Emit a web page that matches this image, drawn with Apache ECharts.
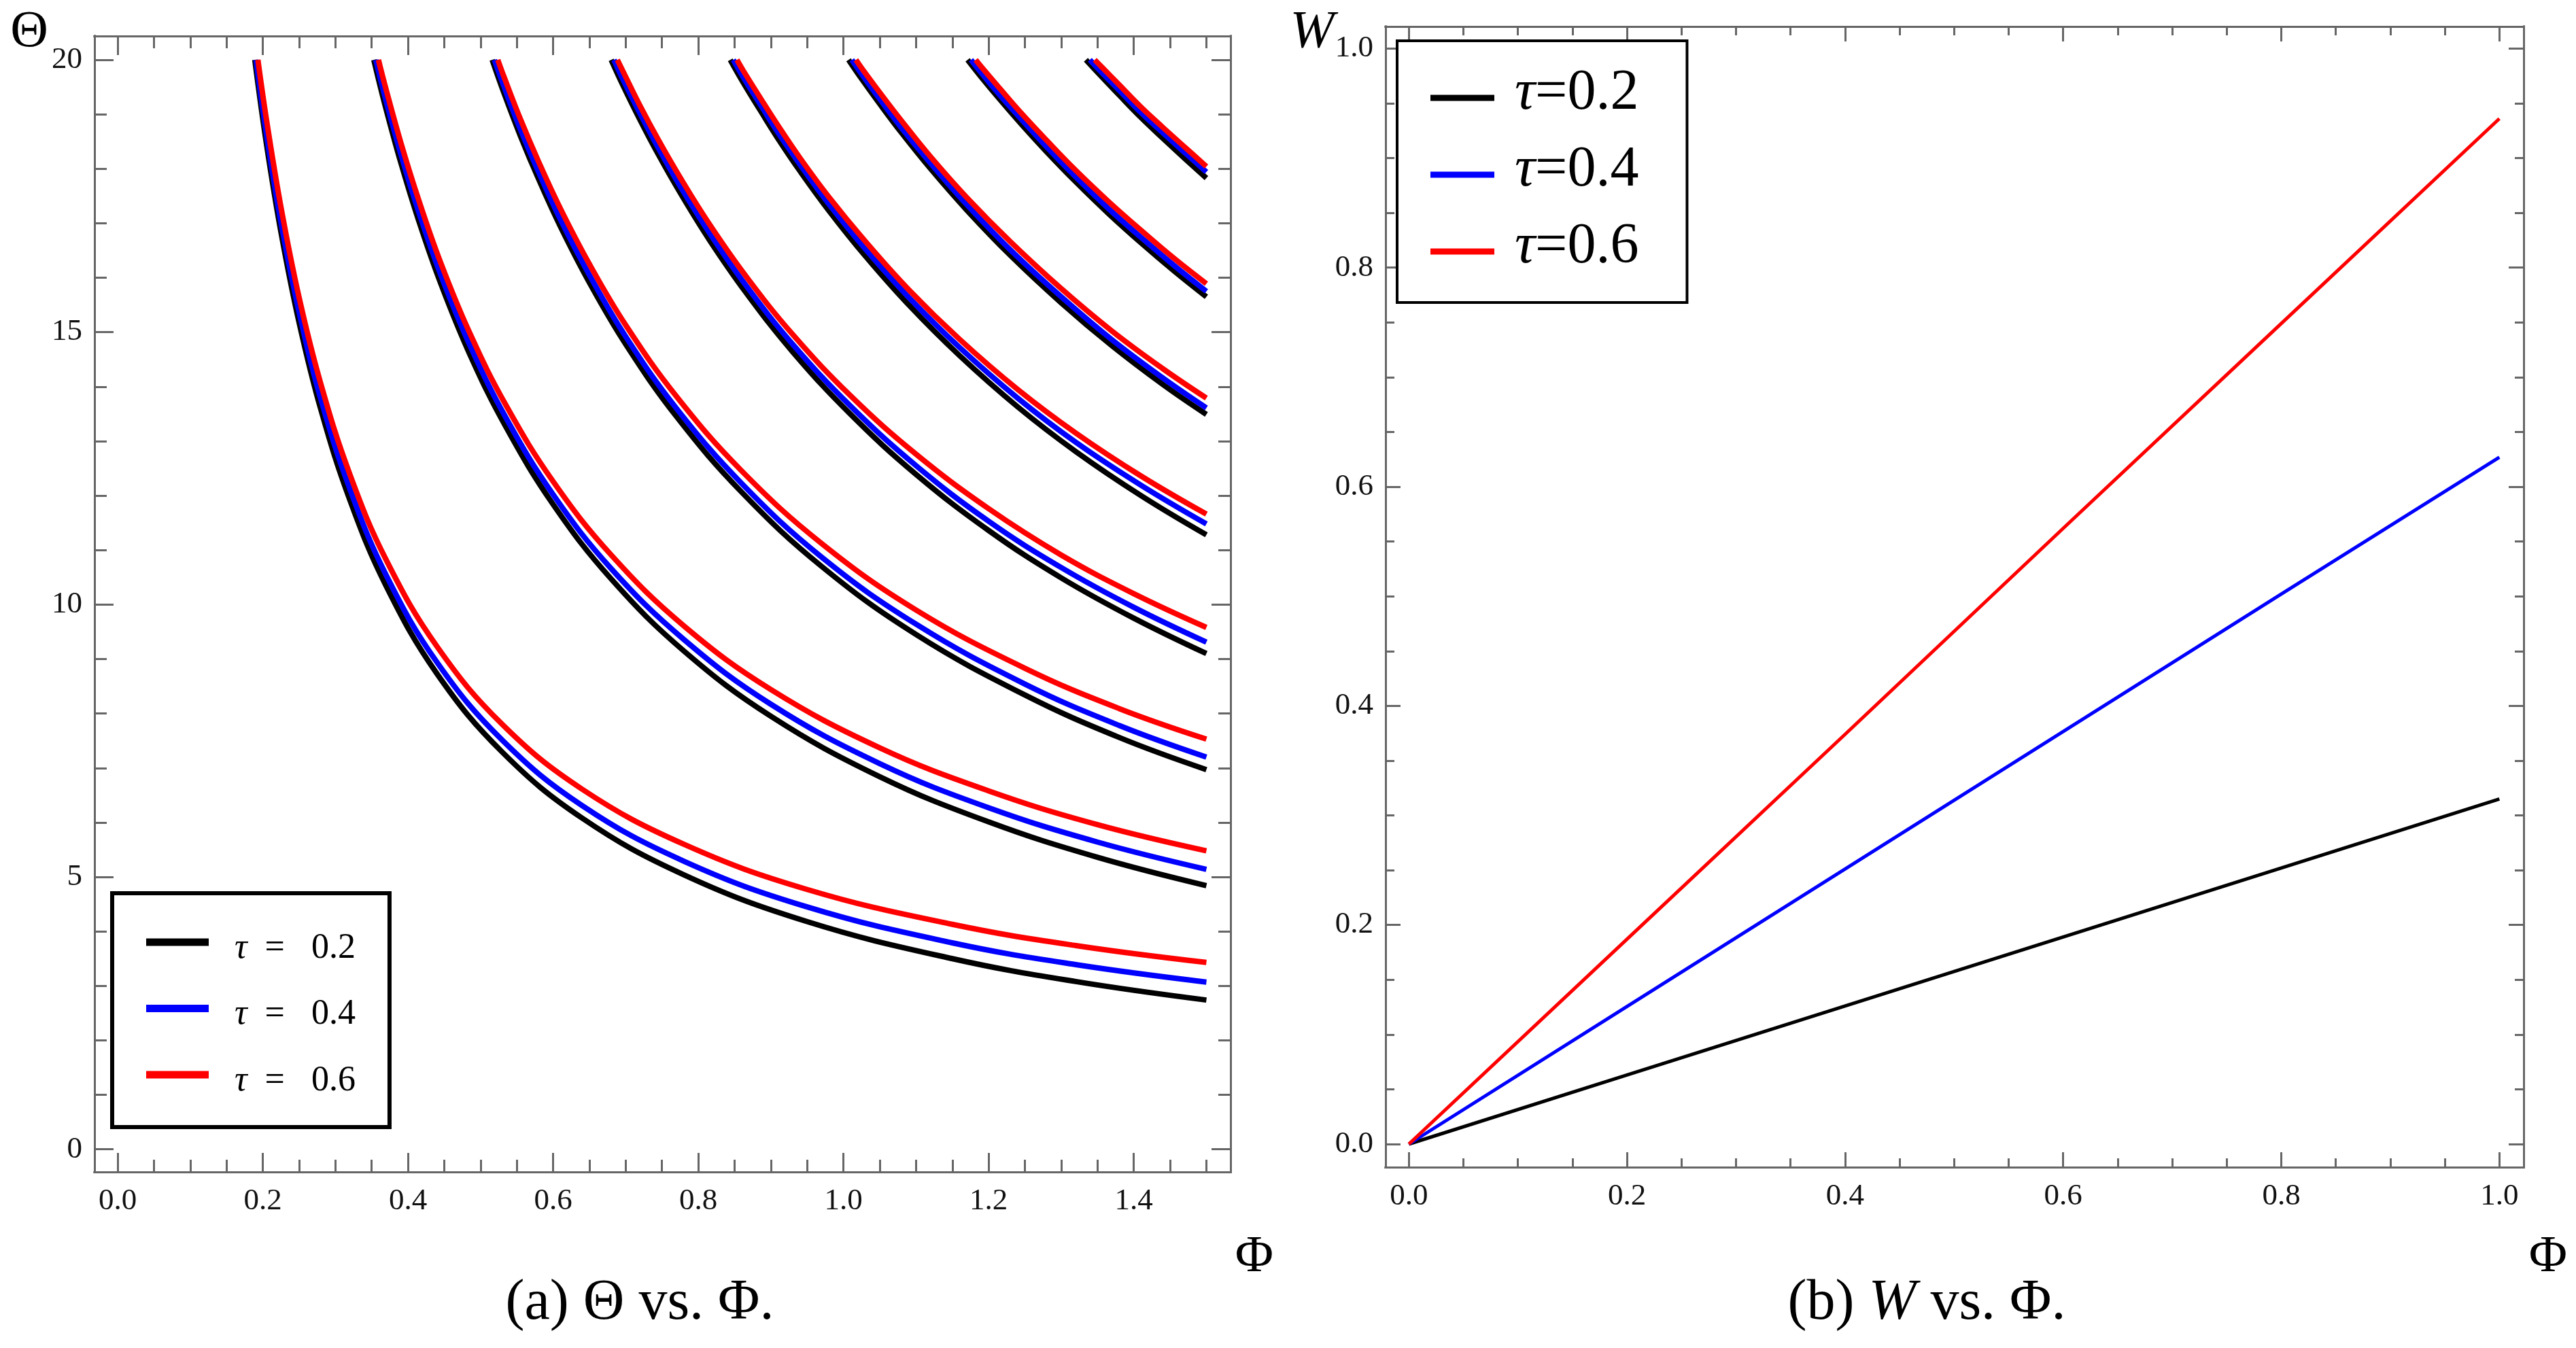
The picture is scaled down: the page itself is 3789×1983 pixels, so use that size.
<!DOCTYPE html>
<html><head><meta charset="utf-8">
<script src="https://cdn.jsdelivr.net/npm/echarts@6/dist/echarts.min.js"></script>
<style>html,body{margin:0;padding:0;background:#fff}#c{width:3789px;height:1983px}</style>
</head><body><div id="c"></div>
<script>
// ---------- Panel (a): Theta vs Phi ----------
const tauNamesA = ['τ = 0.2', 'τ = 0.4', 'τ = 0.6'];
const tauNamesB = ['τ=0.2', 'τ=0.4', 'τ=0.6'];
const lineColors = ['#000000', '#0000ff', '#ff0000'];

const startTheta = 20;
const startPhiBlack = [0.189, 0.353, 0.516, 0.680, 0.844, 1.007, 1.171, 1.334];
const startPhiBlue  = [0.1907, 0.3557, 0.5191, 0.6838, 0.8482, 1.0116, 1.1757, 1.3394];
const startPhiRed   = [0.1933, 0.3594, 0.5238, 0.6885, 0.8533, 1.0172, 1.1822, 1.3462];

const phiGrid = [
  [0.205, 0.225, 0.25, 0.28, 0.32, 0.37, 0.44, 0.53, 0.64, 0.78, 0.95, 1.15, 1.32, 1.5],
  [0.368, 0.39, 0.415, 0.445, 0.485, 0.535, 0.6, 0.68, 0.78, 0.9, 1.05, 1.2, 1.35, 1.5],
  [0.532, 0.555, 0.58, 0.61, 0.65, 0.7, 0.77, 0.86, 0.97, 1.1, 1.25, 1.38, 1.5],
  [0.697, 0.72, 0.745, 0.775, 0.815, 0.865, 0.93, 1.01, 1.1, 1.2, 1.3, 1.4, 1.5],
  [0.862, 0.885, 0.91, 0.94, 0.98, 1.03, 1.09, 1.16, 1.24, 1.32, 1.41, 1.5],
  [1.025, 1.05, 1.08, 1.12, 1.17, 1.23, 1.3, 1.37, 1.44, 1.5],
  [1.19, 1.215, 1.245, 1.28, 1.32, 1.365, 1.41, 1.455, 1.5],
  [1.355, 1.38, 1.41, 1.44, 1.47, 1.5]
];
const thetaBlack = [
  [18.46, 16.84, 15.18, 13.58, 11.92, 10.34, 8.73, 7.29, 6.08, 5.04, 4.18, 3.50, 3.08, 2.74],
  [19.19, 18.12, 17.04, 15.90, 14.60, 13.26, 11.84, 10.47, 9.15, 7.95, 6.84, 6.01, 5.36, 4.84],
  [19.40, 18.60, 17.81, 16.94, 15.91, 14.78, 13.45, 12.06, 10.70, 9.45, 8.34, 7.56, 6.97],
  [19.51, 18.89, 18.26, 17.56, 16.70, 15.74, 14.64, 13.49, 12.39, 11.36, 10.49, 9.75, 9.10],
  [19.58, 19.08, 18.55, 17.96, 17.23, 16.40, 15.50, 14.57, 13.63, 12.81, 12.00, 11.28],
  [19.65, 19.19, 18.66, 18.00, 17.24, 16.41, 15.54, 14.75, 14.04, 13.49],
  [19.68, 19.28, 18.82, 18.31, 17.76, 17.18, 16.64, 16.13, 15.65],
  [19.70, 19.35, 18.94, 18.56, 18.19, 17.83]
];
const thetaBlue = [
  [18.64, 17.02, 15.37, 13.77, 12.12, 10.54, 8.94, 7.51, 6.31, 5.29, 4.45, 3.79, 3.39, 3.07],
  [19.34, 18.28, 17.20, 16.06, 14.77, 13.43, 12.02, 10.66, 9.36, 8.17, 7.08, 6.27, 5.64, 5.14],
  [19.52, 18.72, 17.94, 17.07, 16.05, 14.92, 13.60, 12.22, 10.87, 9.64, 8.54, 7.78, 7.20],
  [19.62, 19.01, 18.38, 17.68, 16.83, 15.87, 14.78, 13.64, 12.55, 11.53, 10.68, 9.95, 9.31],
  [19.68, 19.19, 18.66, 18.08, 17.35, 16.53, 15.64, 14.72, 13.79, 12.98, 12.19, 11.48],
  [19.74, 19.28, 18.75, 18.10, 17.34, 16.51, 15.65, 14.86, 14.16, 13.61],
  [19.76, 19.36, 18.91, 18.40, 17.85, 17.27, 16.74, 16.23, 15.75],
  [19.78, 19.44, 19.03, 18.66, 18.30, 17.94]
];
const thetaRed = [
  [18.91, 17.30, 15.64, 14.05, 12.39, 10.82, 9.23, 7.80, 6.61, 5.60, 4.77, 4.13, 3.74, 3.43],
  [19.55, 18.49, 17.42, 16.28, 14.99, 13.66, 12.26, 10.91, 9.61, 8.44, 7.37, 6.58, 5.96, 5.48],
  [19.70, 18.91, 18.13, 17.27, 16.25, 15.13, 13.82, 12.45, 11.12, 9.90, 8.83, 8.09, 7.53],
  [19.77, 19.15, 18.53, 17.84, 16.99, 16.04, 14.96, 13.83, 12.76, 11.76, 10.91, 10.20, 9.58],
  [19.80, 19.31, 18.79, 18.20, 17.48, 16.67, 15.78, 14.87, 13.95, 13.15, 12.36, 11.66],
  [19.85, 19.40, 18.88, 18.22, 17.47, 16.66, 15.80, 15.02, 14.33, 13.79],
  [19.87, 19.48, 19.02, 18.52, 17.97, 17.40, 16.87, 16.36, 15.89],
  [19.88, 19.54, 19.13, 18.76, 18.40, 18.04]
];

// ---------- Panel (b): W vs Phi ----------
const phiW   = [0, 0.2, 0.4, 0.6, 0.8, 1.0];
const wTau02 = [0, 0.063, 0.126, 0.189, 0.252, 0.315];
const wTau04 = [0, 0.1255, 0.251, 0.3765, 0.502, 0.627];
const wTau06 = [0, 0.187, 0.374, 0.562, 0.749, 0.936];

// ---------- Ticks ----------
const xTicksA = [0, 0.2, 0.4, 0.6, 0.8, 1.0, 1.2, 1.4];
const yTicksA = [0, 5, 10, 15, 20];
const xTicksB = [0, 0.2, 0.4, 0.6, 0.8, 1.0];
const yTicksB = [0, 0.2, 0.4, 0.6, 0.8, 1.0];
function steps(n, step) { const a = []; for (let i = 0; i <= n; i++) a.push(Math.round(i * step * 1000) / 1000); return a; }
const xMinorA = steps(30, 0.05);
const yMinorA = steps(20, 1);
const xMinorB = steps(20, 0.05);
const yMinorB = steps(20, 0.05);

const FONT = '"Liberation Serif", "DejaVu Serif", serif';
const FRAME = '#666666';

function axisSet(gridIndex, min, max, pos0, pos1, major, minor, majLen, minLen, label) {
  const base = (pos, vals, len, withLabel) => ({
    type: 'value', gridIndex, min, max, position: pos,
    axisLine: { show: true, onZero: false, lineStyle: { color: FRAME, width: 3, cap: 'square' } },
    axisTick: { show: true, inside: true, length: len, customValues: vals, lineStyle: { color: FRAME, width: 3 } },
    axisLabel: withLabel ? Object.assign({ show: true, customValues: major, fontFamily: FONT, fontSize: 45, lineHeight: 45, color: '#111' }, label) : { show: false },
    splitLine: { show: false }, minorTick: { show: false }, minorSplitLine: { show: false }
  });
  return [base(pos0, major, majLen, true), base(pos0, minor, minLen, false), base(pos1, major, majLen, false), base(pos1, minor, minLen, false)];
}

const xAxes = [].concat(
  axisSet(0, -0.03185, 1.5333, 'bottom', 'top', xTicksA, xMinorA, 28, 18, { margin: 21, formatter: v => v.toFixed(1) }),
  axisSet(1, -0.02137, 1.02225, 'bottom', 'top', xTicksB, xMinorB, 22, 13, { margin: 21, formatter: v => v.toFixed(1) })
);
const yAxes = [].concat(
  axisSet(0, -0.4155, 20.4368, 'left', 'right', yTicksA, yMinorA, 28, 18, { margin: 18, padding: [0, 0, 20, 0], formatter: v => String(v) }),
  axisSet(1, -0.0211, 1.0201, 'left', 'right', yTicksB, yMinorB, 22, 13, { margin: 18, padding: [0, 0, 24, 0], formatter: v => v.toFixed(1) })
);

const series = [];
const starts = [startPhiBlack, startPhiBlue, startPhiRed];
const thetas = [thetaBlack, thetaBlue, thetaRed];
for (let t = 0; t < 3; t++) {
  for (let f = 0; f < phiGrid.length; f++) {
    const data = [[starts[t][f], startTheta]].concat(phiGrid[f].map((p, i) => [p, thetas[t][f][i]]));
    series.push({
      type: 'line', name: tauNamesA[t], xAxisIndex: 0, yAxisIndex: 0, data,
      smooth: 0.4, showSymbol: false, symbol: 'none', clip: true,
      lineStyle: { color: lineColors[t], width: 8 }, itemStyle: { color: lineColors[t] },
      emphasis: { disabled: true }, z: 2 + t
    });
  }
}
const wSeries = [wTau02, wTau04, wTau06];
for (let t = 0; t < 3; t++) {
  series.push({
    type: 'line', name: tauNamesB[t], xAxisIndex: 4, yAxisIndex: 4,
    data: phiW.map((p, i) => [p, wSeries[t][i]]),
    showSymbol: false, symbol: 'none',
    lineStyle: { color: lineColors[t], width: 5 }, itemStyle: { color: lineColors[t] },
    emphasis: { disabled: true }, z: 2 + t
  });
}

const option = {
  animation: false,
  backgroundColor: '#ffffff',
  grid: [
    { left: 139, top: 53, width: 1671, height: 1671, containLabel: false },
    { left: 2038, top: 39, width: 1674, height: 1678, containLabel: false }
  ],
  xAxis: xAxes,
  yAxis: yAxes,
  legend: [
    {
      data: tauNamesA.map(n => ({ name: n, icon: 'rect' })),
      orient: 'vertical', left: 165, top: 1314,
      padding: [37, 50, 42, 50], itemWidth: 92, itemHeight: 11, itemGap: 27.5,
      borderColor: '#000', borderWidth: 6, backgroundColor: '#fff', selectedMode: false,
      formatter: n => '{i|τ}' + n.slice(1).replace(' = ', '\u00a0\u00a0=\u00a0\u00a0\u00a0'),
      textStyle: { fontFamily: FONT, fontSize: 52, lineHeight: 52, color: '#000', padding: [18, 0, 0, 33],
        rich: { i: { fontFamily: FONT, fontStyle: 'italic', fontSize: 52, lineHeight: 52, color: '#000' } } }
    },
    {
      data: tauNamesB.map(n => ({ name: n, icon: 'rect' })),
      orient: 'vertical', left: 2055, top: 60,
      padding: [36, 71, 27, 49], itemWidth: 94, itemHeight: 9, itemGap: 17,
      borderColor: '#000', borderWidth: 4, backgroundColor: '#fff', selectedMode: false,
      formatter: n => '{i|τ}' + n.slice(1),
      textStyle: { fontFamily: FONT, fontSize: 84, lineHeight: 84, color: '#000', padding: [0, 0, 12, 25],
        rich: { i: { fontFamily: FONT, fontStyle: 'italic', fontSize: 84, lineHeight: 84, color: '#000' } } }
    }
  ],
  graphic: [
    { type: 'text', x: 43, y: 48, style: { text: 'Θ', fontFamily: FONT, fontSize: 77, fill: '#000', align: 'center', verticalAlign: 'middle' } },
    { type: 'text', x: 1930, y: 48, style: { text: 'W', fontFamily: FONT, fontStyle: 'italic', fontSize: 78, fill: '#000', align: 'center', verticalAlign: 'middle' } },
    { type: 'text', x: 1845, y: 1850, style: { text: 'Φ', fontFamily: FONT, fontSize: 77, fill: '#000', align: 'center', verticalAlign: 'middle' } },
    { type: 'text', x: 3748, y: 1850, style: { text: 'Φ', fontFamily: FONT, fontSize: 77, fill: '#000', align: 'center', verticalAlign: 'middle' } },
    { type: 'text', x: 941, y: 1918, style: { text: '(a) Θ vs. Φ.', fontFamily: FONT, fontSize: 84, fill: '#000', align: 'center', verticalAlign: 'middle' } },
    { type: 'text', x: 2834, y: 1918, style: { text: '(b) {i|W} vs. Φ.', fontFamily: FONT, fontSize: 84, fill: '#000', align: 'center', verticalAlign: 'middle',
      rich: { i: { fontFamily: FONT, fontStyle: 'italic', fontSize: 84, fill: '#000' } } } }
  ],
  series
};

const chart = echarts.init(document.getElementById('c'), null, { renderer: 'canvas', width: 3789, height: 1983 });
chart.setOption(option);
</script>
</body></html>
